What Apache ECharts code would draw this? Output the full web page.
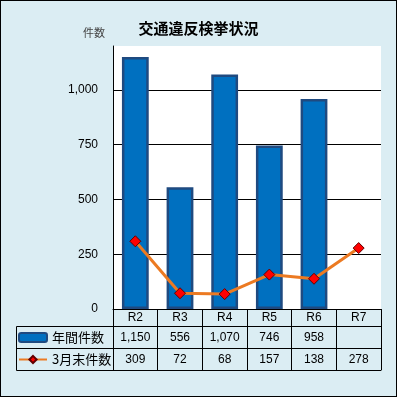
<!DOCTYPE html>
<html>
<head>
<meta charset="utf-8">
<script src="https://cdn.jsdelivr.net/npm/echarts@6/dist/echarts.min.js"></script>
<style>
  html, body { margin: 0; padding: 0; background: #dbedf3; }
  #chart { width: 397px; height: 397px; box-sizing: border-box; border: 1px solid #000; }
</style>
</head>
<body>
<div id="chart"></div>
<script>
// data
const years = ['R2', 'R3', 'R4', 'R5', 'R6', 'R7']
const annualCounts = [1150, 556, 1070, 746, 958, null]
const marchCounts = [309, 72, 68, 157, 138, 278]
const yTicks = [0, 250, 500, 750, 1000]

const fmt = v => (v == null ? '' : echarts.format.addCommas(v))
const jp = '"Noto Sans CJK JP", sans-serif'
const num = '"Liberation Sans", Arial, sans-serif'

const chart = echarts.init(document.getElementById('chart'), null, { renderer: 'canvas' })

// grid box in px, canvas is 395x395 inside the 1px border
const H = 395
const G = { left: 112, right: 15, top: 45, bottom: 87 }
const rowH = [17, 22, 22]
const axisY = H - G.bottom

function rowAxis(labels, offset) {
  return {
    type: 'category',
    position: 'bottom',
    data: labels,
    offset: offset,
    axisLine: { lineStyle: { color: '#000' } },
    axisTick: { show: false },
    axisLabel: { margin: 6, fontFamily: num, fontSize: 12, color: '#000' },
  }
}

chart.setOption({
  backgroundColor: '#dbedf3',
  animation: false,
  title: {
    text: '交通違反検挙状況',
    left: 'center',
    top: 15,
    textStyle: { fontFamily: jp, fontSize: 15, fontWeight: 'bold', color: '#000' },
  },
  legend: {
    orient: 'vertical',
    left: 17,
    top: axisY + rowH[0] + 4,
    padding: 0,
    itemWidth: 28,
    itemHeight: 9,
    itemGap: 7,
    textStyle: { fontFamily: jp, fontSize: 13, lineHeight: 15, color: '#000' },
    data: ['年間件数', '3月末件数'],
  },
  grid: {
    left: G.left, right: G.right, top: G.top, bottom: G.bottom,
    outerBoundsMode: 'none',
    show: true, backgroundColor: '#fff', borderWidth: 0,
  },
  xAxis: [
    {
      type: 'category',
      position: 'bottom',
      data: years,
      axisLine: { lineStyle: { color: '#000', width: 1 } },
      axisTick: { show: true, length: rowH[0] + rowH[1] + rowH[2], lineStyle: { color: '#000' } },
      axisLabel: { margin: 3, fontFamily: num, fontSize: 12, color: '#000' },
    },
    rowAxis(annualCounts.map(fmt), rowH[0]),
    rowAxis(marchCounts.map(fmt), rowH[0] + rowH[1]),
    Object.assign(rowAxis(years.map(() => ''), rowH[0] + rowH[1] + rowH[2]), { axisLabel: { show: false } }),
  ],
  yAxis: {
    type: 'value',
    min: 0,
    max: 1200,
    interval: 250,
    name: '件数',
    nameLocation: 'end',
    nameGap: 8,
    nameTextStyle: { fontFamily: jp, fontSize: 11, color: '#444', align: 'right', padding: [0, 8, 0, 0] },
    axisLine: { show: true, lineStyle: { color: '#000' } },
    axisTick: { show: false },
    axisLabel: {
      margin: 15,
      fontFamily: num,
      fontSize: 12,
      color: '#000',
      formatter: v => (yTicks.includes(v) ? fmt(v) : ''),
    },
    splitLine: {
      lineStyle: { color: ['#000', '#000', '#000', '#000', '#000', 'rgba(0,0,0,0)'], width: 1 },
    },
  },
  graphic: [
    {
      type: 'rect',
      shape: { x: 15.5, y: axisY + rowH[0] + 0.5, width: G.left - 15, height: rowH[1] + rowH[2] },
      style: { fill: 'none', stroke: '#000', lineWidth: 1 },
      z: 10,
    },
    {
      type: 'line',
      shape: { x1: 15.5, y1: axisY + rowH[0] + rowH[1] + 0.5, x2: G.left, y2: axisY + rowH[0] + rowH[1] + 0.5 },
      style: { stroke: '#000', lineWidth: 1 },
      z: 10,
    },
  ],
  series: [
    {
      name: '年間件数',
      type: 'bar',
      data: annualCounts,
      barWidth: '60%',
      itemStyle: { color: '#0070c0', borderColor: '#1f4a80', borderWidth: 2.5 },
    },
    {
      name: '3月末件数',
      type: 'line',
      data: marchCounts,
      symbol: 'diamond',
      symbolSize: 11,
      lineStyle: { color: '#ec7a22', width: 3 },
      itemStyle: { color: '#ff0000', borderColor: '#600000', borderWidth: 1 },
    },
  ],
})
</script>
</body>
</html>
